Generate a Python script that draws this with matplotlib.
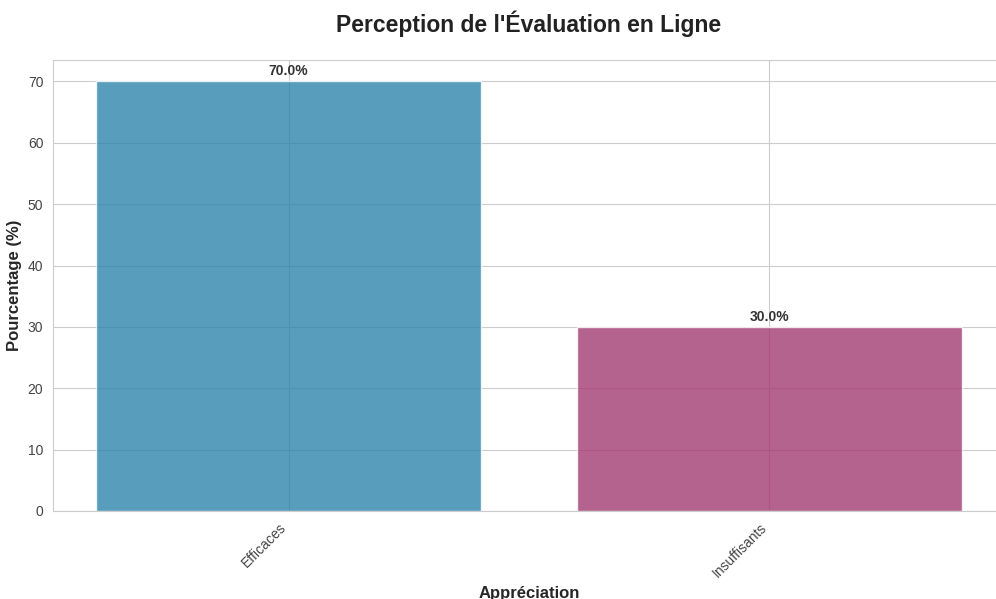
import matplotlib
matplotlib.use('Agg')
import matplotlib.pyplot as plt
import seaborn as sns

categories = ['Efficaces', 'Insuffisants']
percentages = [70.0, 30.0]
colors = ['#2E86AB', '#A23B72']

sns.set_style('whitegrid')
plt.rcParams['font.family'] = ['Liberation Sans', 'DejaVu Sans']

W, H = 996, 599
fig = plt.figure(figsize=(W / 100, H / 100), dpi=100)
ax = fig.add_axes([53 / W, (H - 511) / H, 952 / W, 451 / H])

bars = ax.bar(categories, percentages, color=colors, alpha=0.8, width=0.8)
for b, v in zip(bars, percentages):
    ax.text(b.get_x() + b.get_width() / 2, v + 0.5, f'{v:.1f}%',
            ha='center', va='bottom', fontsize=10, fontweight='bold', color='#333333')

ax.set_title("Perception de l'Évaluation en Ligne", fontsize=16.5, fontweight='bold',
             pad=20, color='#222222')
ax.set_xlabel('Appréciation', fontsize=12, fontweight='bold', labelpad=4)
ax.set_ylabel('Pourcentage (%)', fontsize=12, fontweight='bold')
ax.tick_params(axis='both', labelsize=10, colors='#444444')
plt.setp(ax.get_xticklabels(), rotation=45, ha='right')
for s in ax.spines.values():
    s.set_color('#cccccc')

fig.savefig('out.png', dpi=100)
